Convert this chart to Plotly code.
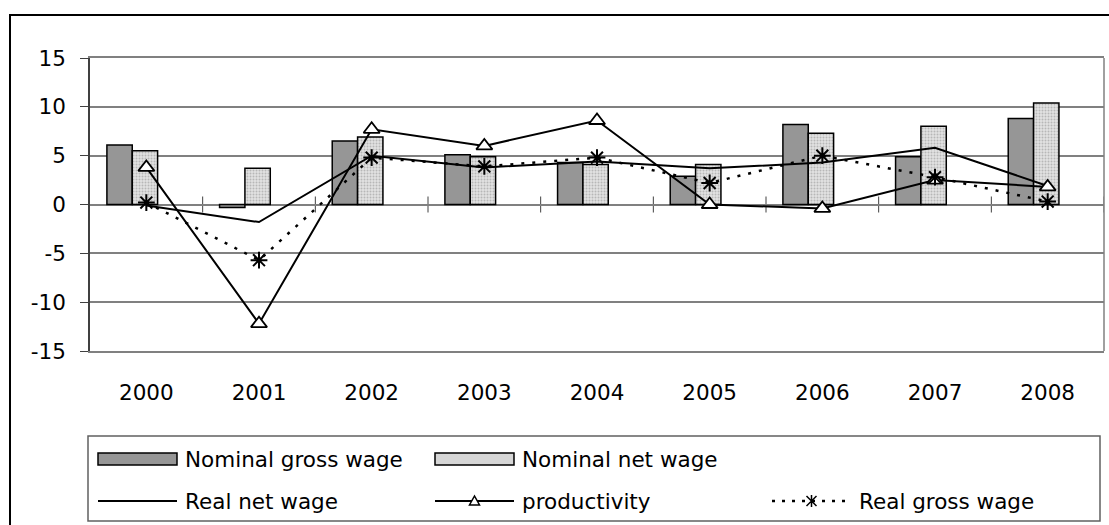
import plotly.graph_objects as go

# ---- data (annual % change) ----
years = ["2000", "2001", "2002", "2003", "2004", "2005", "2006", "2007", "2008"]
nominal_gross_wage = [6.1, -0.3, 6.5, 5.1, 4.3, 2.9, 8.2, 4.9, 8.8]
nominal_net_wage = [5.5, 3.7, 6.9, 4.9, 4.1, 4.1, 7.3, 8.0, 10.4]
real_net_wage = [-0.1, -1.8, 5.0, 3.8, 4.4, 3.7, 4.3, 5.8, 1.9]
productivity = [3.8, -12.2, 7.7, 6.0, 8.6, 0.0, -0.4, 2.5, 1.8]
real_gross_wage = [0.2, -5.7, 4.8, 3.9, 4.8, 2.2, 5.0, 2.8, 0.3]
y_ticks = [-15, -10, -5, 0, 5, 10, 15]

# ---- page geometry ----
W, H = 1109, 525
ML, MR, MT, MB = 90, 5, 58, 174
PW, PH = W - ML - MR, H - MT - MB
FONT = "DejaVu Sans"
FS = 21.5


def px(x):
    """pixel x -> paper x"""
    return (x - ML) / PW


def py(y):
    """pixel y (from top) -> paper y"""
    return (H - MB - y) / PH


fig = go.Figure()

fig.add_trace(go.Bar(
    x=years, y=nominal_gross_wage, name="Nominal gross wage",
    width=0.225, offset=-0.35,
    marker=dict(color="#969696", line=dict(color="black", width=1.5)),
    showlegend=False,
))
fig.add_trace(go.Bar(
    x=years, y=nominal_net_wage, name="Nominal net wage",
    width=0.225, offset=-0.125,
    marker=dict(color="#dedede", line=dict(color="black", width=1.5),
                pattern=dict(shape=".", fgcolor="#8c8c8c", bgcolor="#e2e2e2",
                             size=3, solidity=0.35)),
    showlegend=False,
))
fig.add_trace(go.Scatter(
    x=years, y=real_net_wage, name="Real net wage", mode="lines",
    line=dict(color="black", width=2), showlegend=False,
))
fig.add_trace(go.Scatter(
    x=years, y=productivity, name="productivity", mode="lines+markers",
    line=dict(color="black", width=2),
    marker=dict(symbol="triangle-up", size=14, color="white",
                line=dict(color="black", width=1.8)),
    showlegend=False,
))
fig.add_trace(go.Scatter(
    x=years, y=real_gross_wage, name="Real gross wage", mode="lines+markers",
    line=dict(color="black", width=2.5, dash="3px,8px"),
    marker=dict(symbol="asterisk-open", size=14,
                line=dict(color="black", width=2)),
    showlegend=False,
))

shapes = []

# tick marks crossing the zero line between categories
for i in range(len(years)):
    shapes.append(dict(
        type="line", xref="x", yref="y", ysizemode="pixel", yanchor=0,
        x0=i + 0.5, x1=i + 0.5, y0=-8, y1=8,
        line=dict(color="#404040", width=1), layer="below",
    ))

# right border of the plot area
shapes.append(dict(type="line", xref="paper", yref="paper", x0=1, x1=1, y0=0, y1=1,
                   line=dict(color="#808080", width=1.5)))

# outer chart frame
shapes.append(dict(type="rect", xref="paper", yref="paper",
                   x0=px(10), x1=px(1116), y0=py(15), y1=py(540),
                   line=dict(color="black", width=2)))

# legend frame
shapes.append(dict(type="rect", xref="paper", yref="paper",
                   x0=px(88), x1=px(1100), y0=py(436), y1=py(521),
                   line=dict(color="#606060", width=1.5)))

# legend keys
row1, row2 = 459, 501
cols = [98, 435, 772]
key_w = 79
shapes.append(dict(type="rect", xref="paper", yref="paper",
                   x0=px(cols[0]), x1=px(cols[0] + key_w), y0=py(row1 + 6), y1=py(row1 - 6),
                   fillcolor="#969696", line=dict(color="black", width=1.5)))
shapes.append(dict(type="rect", xref="paper", yref="paper",
                   x0=px(cols[1]), x1=px(cols[1] + key_w), y0=py(row1 + 6), y1=py(row1 - 6),
                   fillcolor="#d6d6d6", line=dict(color="black", width=1.5)))
shapes.append(dict(type="line", xref="paper", yref="paper",
                   x0=px(cols[0]), x1=px(cols[0] + key_w), y0=py(row2), y1=py(row2),
                   line=dict(color="black", width=2)))
shapes.append(dict(type="line", xref="paper", yref="paper",
                   x0=px(cols[1]), x1=px(cols[1] + key_w), y0=py(row2), y1=py(row2),
                   line=dict(color="black", width=2)))
shapes.append(dict(type="line", xref="paper", yref="paper",
                   x0=px(cols[2]), x1=px(cols[2] + key_w), y0=py(row2), y1=py(row2),
                   line=dict(color="black", width=2.5, dash="3px,7px")))
# small triangle key
shapes.append(dict(type="path", xref="paper", yref="paper",
                   xsizemode="pixel", ysizemode="pixel",
                   xanchor=px(cols[1] + key_w / 2), yanchor=py(row2),
                   path="M-5,-4 L5,-4 L0,5 Z",
                   fillcolor="white", line=dict(color="black", width=1.5)))
# small asterisk key
shapes.append(dict(type="path", xref="paper", yref="paper",
                   xsizemode="pixel", ysizemode="pixel",
                   xanchor=px(cols[2] + key_w / 2), yanchor=py(row2),
                   path="M-5,-5 L5,5 M-5,5 L5,-5 M0,-6 L0,6",
                   line=dict(color="black", width=1.5)))

annotations = []
labels = [("Nominal gross wage", cols[0], row1), ("Nominal net wage", cols[1], row1),
          ("Real net wage", cols[0], row2), ("productivity", cols[1], row2),
          ("Real gross wage", cols[2], row2)]
for text, cx, cy in labels:
    annotations.append(dict(
        text=text, xref="paper", yref="paper", x=px(cx + key_w + 6), y=py(cy),
        xanchor="left", yanchor="middle", showarrow=False,
        font=dict(family=FONT, size=FS, color="black"),
    ))

fig.update_layout(
    width=W, height=H, autosize=False,
    margin=dict(l=ML, r=MR, t=MT, b=MB, pad=0),
    paper_bgcolor="white", plot_bgcolor="white",
    barmode="overlay",
    font=dict(family=FONT, size=FS, color="black"),
    shapes=shapes, annotations=annotations,
    showlegend=False,
    xaxis=dict(
        type="category", range=[-0.5, 8.5],
        showline=True, mirror=True, linecolor="#808080", linewidth=1.5,
        showgrid=False, zeroline=False,
        ticks="outside", ticklen=21, tickcolor="rgba(0,0,0,0)",
        tickfont=dict(family=FONT, size=FS, color="black"),
    ),
    yaxis=dict(
        range=[-15, 15], tickmode="array", tickvals=y_ticks,
        ticktext=[str(v) for v in y_ticks],
        showgrid=True, gridcolor="#808080", gridwidth=1.5,
        zeroline=True, zerolinecolor="#808080", zerolinewidth=1.5,
        showline=True, linecolor="#404040", linewidth=1.5,
        ticks="outside", ticklen=8, tickcolor="#404040", tickwidth=1,
        ticklabelstandoff=10,
        tickfont=dict(family=FONT, size=FS, color="black"),
    ),
)

fig.write_html("out.html")
